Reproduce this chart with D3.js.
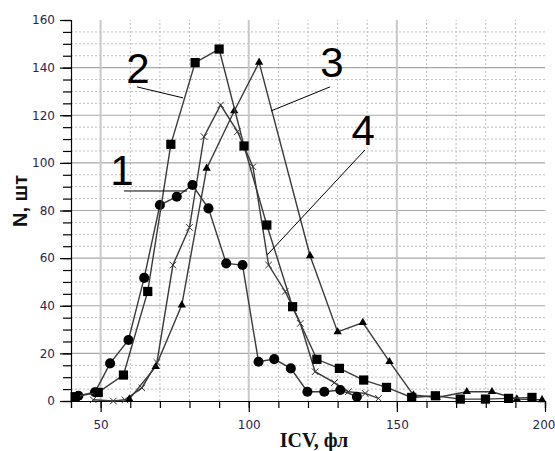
<!DOCTYPE html>
<html>
<head>
<meta charset="utf-8">
<script src="https://cdn.jsdelivr.net/npm/d3@7/dist/d3.min.js"></script>
<style>
  body { margin: 0; background: #fff; }
  svg { display: block; }
</style>
</head>
<body>
<div class="container"></div>
<script>
// data: [ICV, N]
const curve1 = [[42.5, 2.2], [48.1, 3.7], [53.2, 15.8], [59.4, 25.6], [64.7, 51.7], [70, 82.3],
  [75.7, 85.8], [81, 90.7], [86.4, 80.9], [92.4, 57.8], [97.9, 57.1], [103.3, 16.5],
  [108.6, 17.6], [114.2, 13.7], [119.8, 3.9], [125.5, 3.9], [130.9, 4.6], [136.5, 1.8]];
const curve2 = [[41.4, 1.8], [49.2, 3.6], [57.7, 10.9], [65.9, 46], [73.7, 107.8], [81.9, 142.1],
  [90, 147.8], [98.4, 107.1], [106.1, 73.9], [114.8, 39.6], [123, 17.5], [130.6, 13.7],
  [138.8, 8.8], [146.5, 5.7], [155, 1.5], [163, 2.2], [171.4, 0.8], [179.9, 0.8],
  [187.7, 1.1], [195.6, 1.5]];
const curve3 = [[59.7, 0.8], [68.6, 14.4], [77.4, 40.3], [85.8, 97.7], [95.1, 121.8], [103.5, 142.2],
  [120.7, 61], [130, 29], [138.5, 32.9], [147.5, 16.5], [155.6, 2.5], [163.5, 1.5],
  [173.6, 3.9], [182.1, 3.9], [190.5, 0.8], [199, 0.5]];
const curve4 = [[47.5, 0.5], [54.3, 0], [58.2, 0.5], [63.9, 5.5], [69, 16.2], [74.4, 57.1],
  [80, 72.9], [84.9, 111], [90.5, 124.3], [96.2, 113.1], [101.4, 98.4], [106.7, 57.1],
  [112.3, 46], [117.4, 32.6], [122.4, 12.3], [128.9, 7.7], [133.6, 3.9], [139.3, 3.2],
  [143.8, 1.1]];

const xTicks = [50, 100, 150, 200];
const yTicks = [0, 20, 40, 60, 80, 100, 120, 140, 160];

// curve numbers and their leader lines, in data units
const labels = [
  { text: '1', at: [57.2, 90.7], from: [57.9, 88.2], to: [79.2, 88.2] },
  { text: '2', at: [62.6, 133.5], from: [62.3, 131.9], to: [77.8, 127.3] },
  { text: '3', at: [128.1, 136.1], from: [127.4, 131.9], to: [107.5, 121.8] },
  { text: '4', at: [138.6, 107.5], from: [139.2, 105.4], to: [106.2, 61.3] },
];

// config
const config = {
  width: 555,
  height: 451,
  margin: { top: 20, right: 10, bottom: 50, left: 71 },
  labelColor: '#2a2550',
  lineColor: '#3a3a3a',
};

const svg = d3.select('.container')
  .append('svg')
  .attr('width', config.width)
  .attr('height', config.height);

const x = d3.scaleLinear()
  .domain([40, 200])
  .range([config.margin.left, config.width - config.margin.right]);

const y = d3.scaleLinear()
  .domain([0, 160])
  .range([config.height - config.margin.bottom, config.margin.top]);

// grid
const grid = svg.append('g');

grid.selectAll('.vminor')
  .data(d3.range(60, 200, 10).filter(v => v % 50 !== 0))
  .enter().append('line')
  .attr('x1', d => x(d)).attr('x2', d => x(d))
  .attr('y1', y(0)).attr('y2', y(160))
  .style('stroke', '#bdbdbd')
  .style('stroke-dasharray', '2,2');

grid.selectAll('.hminor')
  .data(d3.range(5, 161, 5).filter(v => v % 20 !== 0))
  .enter().append('line')
  .attr('x1', x(40)).attr('x2', x(200))
  .attr('y1', d => y(d)).attr('y2', d => y(d))
  .style('stroke', '#bdbdbd')
  .style('stroke-dasharray', '2,2');

grid.selectAll('.hmajor')
  .data(yTicks.filter(v => v > 0 && v < 160))
  .enter().append('line')
  .attr('x1', x(40)).attr('x2', x(200))
  .attr('y1', d => y(d)).attr('y2', d => y(d))
  .style('stroke', '#a8a8a8')
  .style('stroke-width', 1.2);

grid.selectAll('.vmajor')
  .data(xTicks.filter(v => v < 200))
  .enter().append('line')
  .attr('x1', d => x(d)).attr('x2', d => x(d))
  .attr('y1', y(0)).attr('y2', y(160))
  .style('stroke', '#c8c8c8')
  .style('stroke-width', 2);

// axes
svg.append('g')
  .attr('transform', `translate(0,${y(0)})`)
  .call(d3.axisBottom(x).tickValues(d3.range(40, 201, 10)).tickSize(7).tickFormat(''));

svg.append('g')
  .attr('transform', `translate(0,${y(0)})`)
  .call(d3.axisBottom(x).tickValues(xTicks).tickSize(11).tickPadding(8))
  .call(g => g.select('.domain').remove())
  .call(g => g.selectAll('.tick text')
    .filter(d => d === 200)
    .attr('text-anchor', 'end')
    .attr('x', 10));

svg.append('g')
  .attr('transform', `translate(${x(40)},0)`)
  .call(d3.axisLeft(y).tickValues(d3.range(0, 161, 5)).tickSize(8).tickFormat(''));

svg.append('g')
  .attr('transform', `translate(${x(40)},0)`)
  .call(d3.axisLeft(y).tickValues(yTicks).tickSize(11).tickPadding(5))
  .call(g => g.select('.domain').remove());

svg.selectAll('.domain').style('stroke', '#000').style('stroke-width', 1.2);
svg.selectAll('.tick line').style('stroke', '#000').style('stroke-width', 1.2);
svg.selectAll('.tick text')
  .style('font-family', 'DejaVu Sans')
  .style('font-size', '12px')
  .style('fill', config.labelColor);

// axis titles
svg.append('text')
  .attr('x', 314)
  .attr('y', 447)
  .attr('text-anchor', 'middle')
  .style('font-family', 'Liberation Serif')
  .style('font-weight', 'bold')
  .style('font-size', '20px')
  .style('fill', '#111')
  .text('ICV, фл');

svg.append('text')
  .attr('transform', 'translate(27,201) rotate(-90)')
  .attr('text-anchor', 'middle')
  .style('font-family', 'Liberation Sans')
  .style('font-weight', 'bold')
  .style('font-size', '20px')
  .style('fill', '#111')
  .text('N, шт');

// curves
const line = d3.line().x(d => x(d[0])).y(d => y(d[1]));

function drawCurve(points, marker) {
  const g = svg.append('g');
  g.append('path')
    .attr('d', line(points))
    .style('fill', 'none')
    .style('stroke', config.lineColor)
    .style('stroke-width', 1.4);

  const sym = g.selectAll('.m')
    .data(points)
    .enter().append('path')
    .attr('transform', d => `translate(${x(d[0])},${y(d[1])})`);

  if (marker === 'circle') {
    sym.attr('d', d3.symbol(d3.symbolCircle, 80)).style('fill', '#000');
  } else if (marker === 'square') {
    sym.attr('d', d3.symbol(d3.symbolSquare, 85)).style('fill', '#000');
  } else if (marker === 'triangle') {
    sym.attr('d', d3.symbol(d3.symbolTriangle, 30)).style('fill', '#000');
  } else {
    sym.attr('d', d3.symbol(d3.symbolTimes, 30))
      .style('fill', 'none')
      .style('stroke', '#333')
      .style('stroke-width', 1);
  }
}

drawCurve(curve4, 'cross');
drawCurve(curve3, 'triangle');
drawCurve(curve1, 'circle');
drawCurve(curve2, 'square');

// curve numbers
labels.forEach(l => {
  svg.append('line')
    .attr('x1', x(l.from[0])).attr('y1', y(l.from[1]))
    .attr('x2', x(l.to[0])).attr('y2', y(l.to[1]))
    .style('stroke', '#000')
    .style('stroke-width', 1);
  svg.append('text')
    .attr('x', x(l.at[0]))
    .attr('y', y(l.at[1]))
    .attr('text-anchor', 'middle')
    .style('font-family', 'Liberation Sans')
    .style('font-size', '42px')
    .style('fill', '#000')
    .text(l.text);
});
</script>
</body>
</html>
